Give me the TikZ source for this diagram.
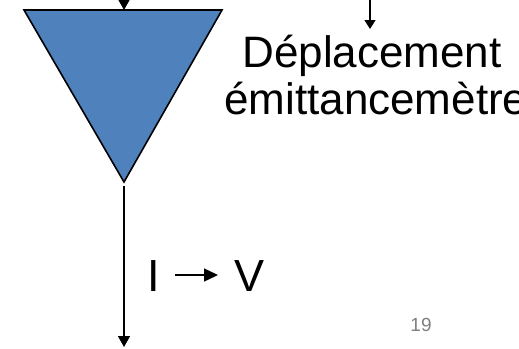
\documentclass[tikz,border=0pt]{standalone}
\usepackage{fontspec}
\setmainfont{Liberation Sans}
\usetikzlibrary{arrows.meta}
\definecolor{triblue}{RGB}{79,129,189}
\definecolor{pagegray}{RGB}{128,128,128}
\tikzset{
  conn/.style={line width=1.4pt,-{Triangle[length=11pt,width=12pt]}},
  smallconn/.style={line width=1.2pt,-{Triangle[length=9pt,width=11pt]}},
  lbl/.style={inner sep=0pt,text=black},
}
\begin{document}
\begin{tikzpicture}[x=1pt,y=-1pt]
\useasboundingbox (0,0) rectangle (519,348);
% triangle
\coordinate (tl) at (24,10);
\coordinate (tr) at (222,10);
\coordinate (tb) at (124,182);
\coordinate (ttop) at (124,10);
\draw[fill=triblue,line width=1.6pt,line join=miter] (tl) -- (tr) -- (tb) -- cycle;
% incoming arrow to triangle
\coordinate (in1) at (124,-2);
\draw[conn] (in1) -- (ttop);
% arrow above text
\coordinate (in2) at (370,-2);
\coordinate (in2end) at (370,29);
\draw[smallconn] (in2) -- (in2end);
% text
\node[lbl,font=\fontsize{44}{48}\selectfont,anchor=base] (dep) at (372,67) {Déplacement};
\node[lbl,font=\fontsize{44}{48}\selectfont,anchor=base west] (emi) at (224,114) {émittancemètre};
% output arrow
\coordinate (outs) at (124,186);
\coordinate (oute) at (124,347);
\draw[conn] (outs) -- (oute);
% I -> V
\node[lbl,font=\fontsize{45}{50}\selectfont,anchor=base west] (I) at (147,291) {I};
\node[lbl,font=\fontsize{45}{50}\selectfont,anchor=base west] (V) at (234,291) {V};
\draw[line width=1.4pt,-{Triangle[length=14pt,width=13pt]}] (175,275) -- (218,275);
% page number
\node[lbl,text=pagegray,font=\fontsize{19}{22}\selectfont,anchor=base] (pg) at (421,331) {19};
\end{tikzpicture}
\end{document}
